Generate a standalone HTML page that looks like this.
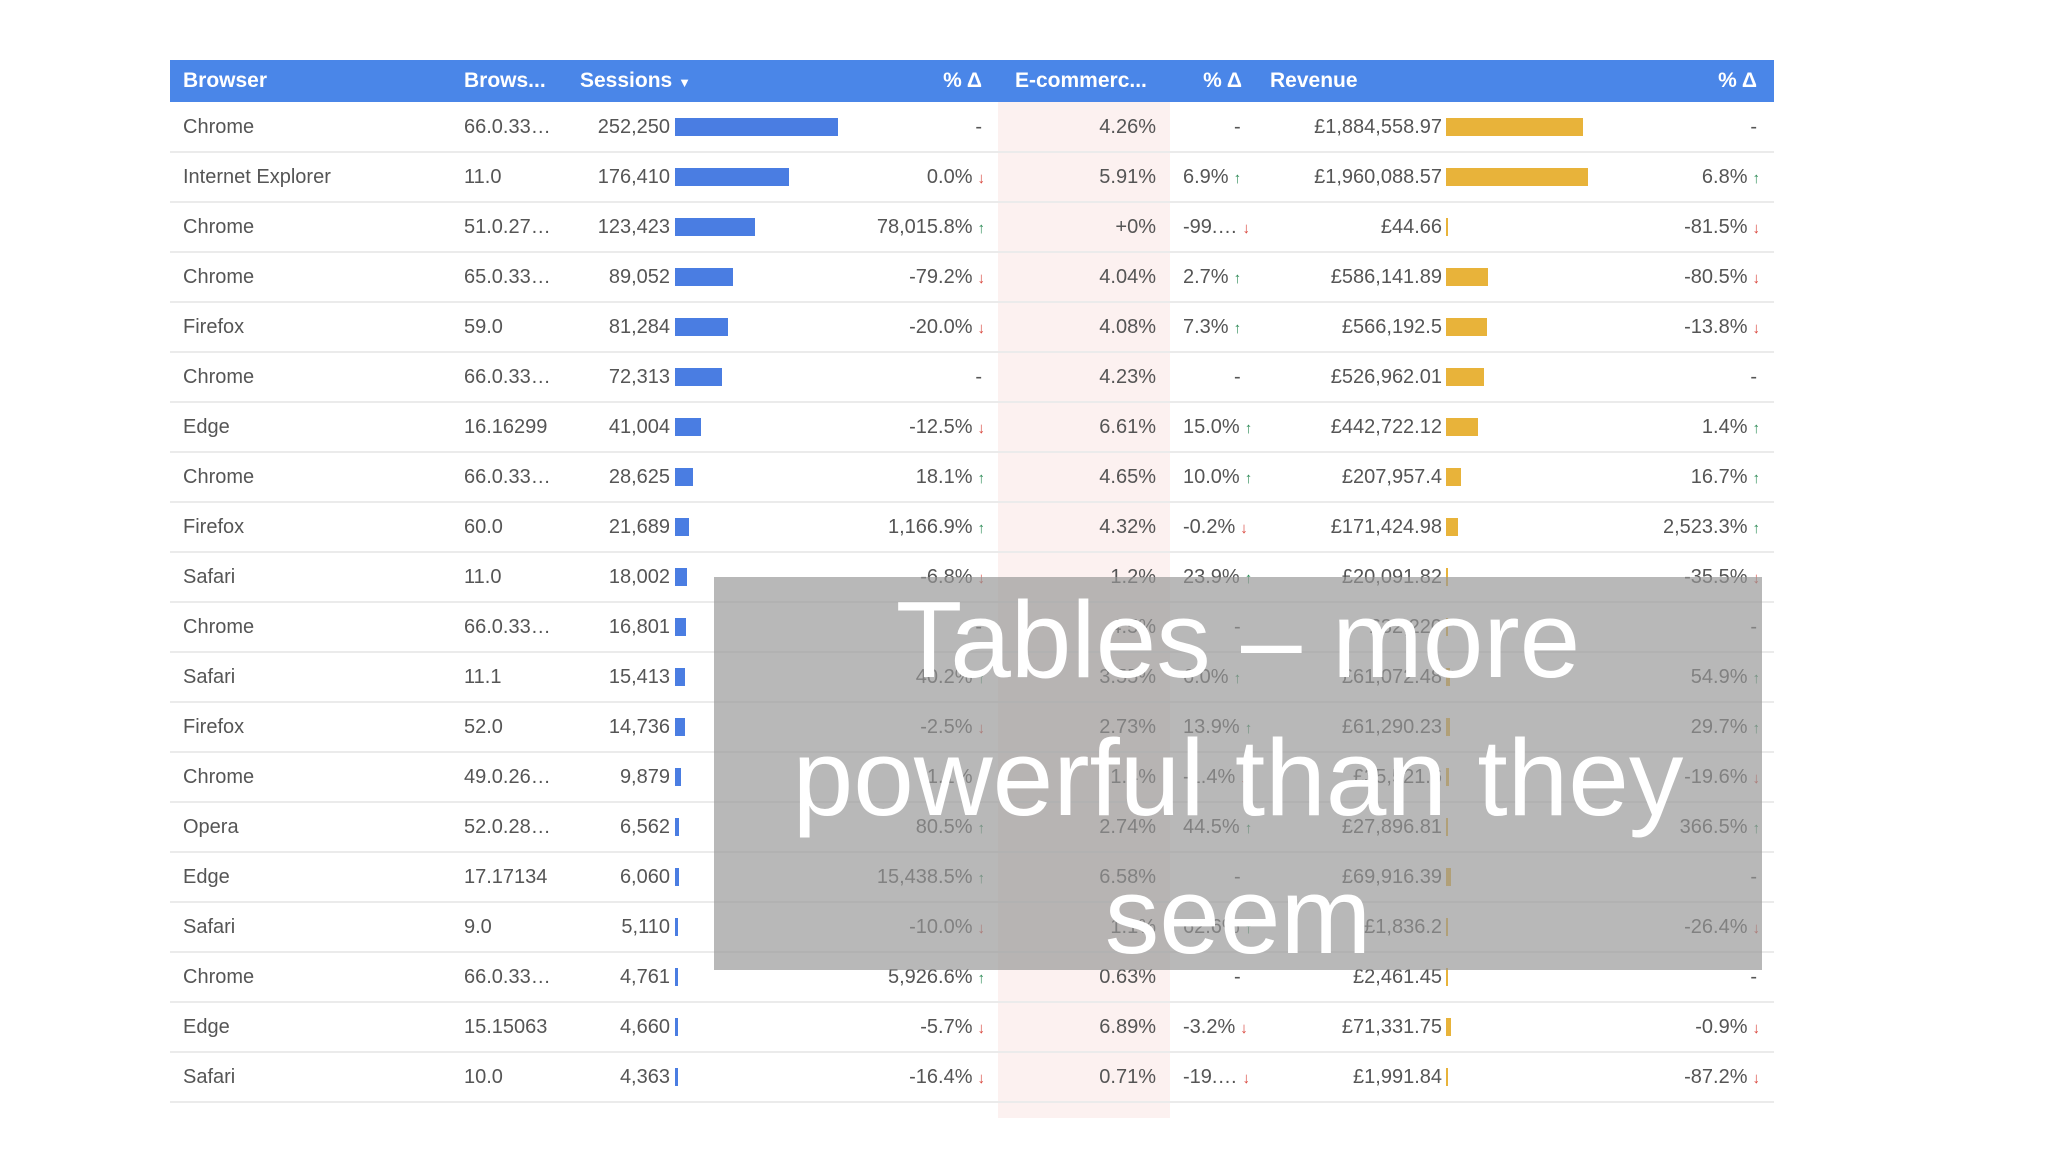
<!DOCTYPE html>
<html><head><meta charset="utf-8">
<style>
body{margin:0;width:2048px;height:1152px;background:#fff;overflow:hidden;font-family:"Liberation Sans",sans-serif;position:relative}
.hdr{position:absolute;left:170px;top:60px;width:1604px;height:42px;background:#4a86e8}
.h{position:absolute;top:60px;height:42px;line-height:42px;color:#fff;font-weight:bold;font-size:21px;white-space:nowrap}
.c{position:absolute;font-size:20px;color:#555;white-space:nowrap;height:50px;line-height:50px}
.r{text-align:right}
.up{color:#2e8b57;font-weight:bold;font-size:15px;margin-left:5px}
.dn{color:#d9453b;font-weight:bold;font-size:15px;margin-left:5px}
.sep{position:absolute;left:170px;width:1604px;height:2px;background:#ebebeb}
.bar{position:absolute;height:18px}
#pink{position:absolute;left:998px;top:102px;width:172px;height:1016px;background:#fcf1f0}
#ov{position:absolute;left:714px;top:577px;width:1048px;height:393px;background:rgba(150,150,150,0.68)}
#ovt{position:absolute;left:704px;top:571px;width:1068px;text-align:center;color:#fff;font-size:109px;line-height:138px;font-family:"Liberation Sans",sans-serif;white-space:nowrap}
</style></head><body>
<div id="pink"></div>
<div class="hdr"></div>
<div class="h" style="left:183px">Browser</div>
<div class="h" style="left:464px">Brows...</div>
<div class="h" style="left:580px">Sessions <span style="font-size:13px">▼</span></div>
<div class="h r" style="left:900px;width:82px">% Δ</div>
<div class="h" style="left:1015px">E-commerc...</div>
<div class="h r" style="left:1160px;width:82px">% Δ</div>
<div class="h" style="left:1270px">Revenue</div>
<div class="h r" style="left:1675px;width:82px">% Δ</div>
<div id="rows"></div>
<div id="ov"></div>
<div id="ovt">Tables – more<br>powerful than they<br>seem</div>
<script>
const browsers=["Chrome","Internet Explorer","Chrome","Chrome","Firefox","Chrome","Edge","Chrome","Firefox","Safari","Chrome","Safari","Firefox","Chrome","Opera","Edge","Safari","Chrome","Edge","Safari"];
const versions=["66.0.33…","11.0","51.0.27…","65.0.33…","59.0","66.0.33…","16.16299","66.0.33…","60.0","11.0","66.0.33…","11.1","52.0","49.0.26…","52.0.28…","17.17134","9.0","66.0.33…","15.15063","10.0"];
const sessions=[252250,176410,123423,89052,81284,72313,41004,28625,21689,18002,16801,15413,14736,9879,6562,6060,5110,4761,4660,4363];
const sessDelta=["-","0.0%","78,015.8%","-79.2%","-20.0%","-","-12.5%","18.1%","1,166.9%","-6.8%","-","40.2%","-2.5%","-1.1%","80.5%","15,438.5%","-10.0%","5,926.6%","-5.7%","-16.4%"];
const sessDir=["","d","u","d","d","","d","u","u","d","","u","d","d","u","u","d","u","d","d"];
const ecom=["4.26%","5.91%","+0%","4.04%","4.08%","4.23%","6.61%","4.65%","4.32%","1.2%","4.5%","3.55%","2.73%","1.4%","2.74%","6.58%","1.1%","0.63%","6.89%","0.71%"];
const ecomDelta=["-","6.9%","-99.…","2.7%","7.3%","-","15.0%","10.0%","-0.2%","23.9%","-","6.0%","13.9%","-1.4%","44.5%","-","62.6%","-","-3.2%","-19.…"];
const ecomDir=["","u","d","u","u","","u","u","d","u","","u","u","d","u","","u","","d","d"];
const revenue=[1884558.97,1960088.57,44.66,586141.89,566192.5,526962.01,442722.12,207957.4,171424.98,20091.82,32220,61072.48,61290.23,35521.6,27896.81,69916.39,1836.2,2461.45,71331.75,1991.84];
const revDelta=["-","6.8%","-81.5%","-80.5%","-13.8%","-","1.4%","16.7%","2,523.3%","-35.5%","-","54.9%","29.7%","-19.6%","366.5%","-","-26.4%","-","-0.9%","-87.2%"];
const revDir=["","u","d","d","d","","u","u","u","d","","u","u","d","u","","d","","d","d"];
const sMax=252250, rMax=1960088.57, sW=163, rW=142;
const sx=v=>Math.max(2,v/sMax*sW), rx=v=>Math.max(2,v/rMax*rW);
const fmtRev=v=>"£"+v.toLocaleString("en-GB",{maximumFractionDigits:2});
const R=document.getElementById("rows");
function cell(txt,left,w,right,name,dir){
 const d=document.createElement("div");d.className="c"+(right?" r":"");
 d.style.left=left+"px";if(w)d.style.width=w+"px";
 d.textContent=txt;
 if(dir){const a=document.createElement("span");a.className=dir=="u"?"up":"dn";a.textContent=dir=="u"?"↑":"↓";d.appendChild(a);}
 
 
 return d;}
browsers.forEach((b,i)=>{
 const top=102+i*50;
 const row=document.createElement("div");row.style.position="absolute";row.style.left="0";row.style.top=top+"px";
 
 
 row.appendChild(cell(b,183,0,false,'browser-cell'));
 row.appendChild(cell(versions[i],464,0,false,'version-cell'));
 row.appendChild(cell(sessions[i].toLocaleString("en-US"),560,110,true,'sessions-cell'));
 const bb=document.createElement("div");bb.className="bar";bb.style.left="675px";bb.style.top="16px";bb.style.width=sx(sessions[i])+"px";bb.style.background="#4a7de2";
 
 
 row.appendChild(bb);
 row.appendChild(cell(sessDelta[i],820,sessDir[i]?165:162,true,'sessions-delta-cell',sessDir[i]));
 row.appendChild(cell(ecom[i],1000,156,true,'ecommerce-cell'));
 row.appendChild(cell(ecomDelta[i],ecomDelta[i]=="-"?1234:1183,0,false,'ecommerce-delta-cell',ecomDir[i]));
 row.appendChild(cell(fmtRev(revenue[i]),1250,192,true,'revenue-cell'));
 const rb=document.createElement("div");rb.className="bar";rb.style.left="1446px";rb.style.top="16px";rb.style.width=rx(revenue[i])+"px";rb.style.background="#e8b33a";
 
 
 row.appendChild(rb);
 row.appendChild(cell(revDelta[i],1600,revDir[i]?160:157,true,'revenue-delta-cell',revDir[i]));
 R.appendChild(row);
 const s=document.createElement("div");s.className="sep";s.style.top=(top+49)+"px";
 
 
 R.appendChild(s);
});
</script>
</body></html>
